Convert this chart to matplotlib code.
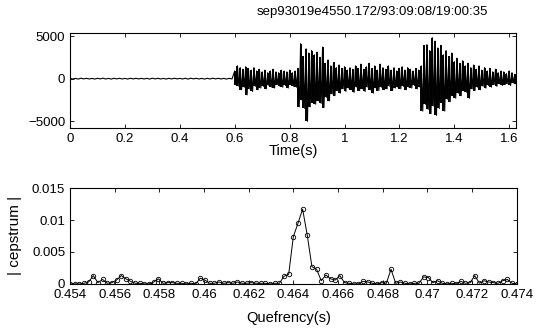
# 파형 + 켑스트럼 재현
import numpy as np
import matplotlib
matplotlib.use("Agg")
import matplotlib.pyplot as plt

plt.rcParams['font.family'] = ['Liberation Sans', 'DejaVu Sans']

# ---- 데이터 ----
title_text = 'sep93019e4550.172/93:09:08/19:00:35'

# 조용한 구간 (0 ~ 0.6 s), 0.02 s 간격 포락선
quiet_start = 0.0
quiet_step = 0.02
quiet_up = [40, 30, 50, 40, 30, 40, 50, 30, 40, 40,
            30, 50, 40, 30, 40, 50, 40, 30, 40, 50,
            30, 40, 50, 40, 30, 40, 50, 40, 30, 40]
quiet_low = [-40, -50, -30, -40, -50, -30, -40, -50, -30, -40,
             -50, -40, -30, -40, -50, -30, -40, -50, -40, -30,
             -40, -50, -30, -40, -50, -40, -30, -40, -50, -40]

# 소리 구간 (0.60 ~ 1.62 s), 0.01 s 간격 상/하 포락선
active_start = 0.60
active_step = 0.01
active_up = [
    900, 1500, 1300, 1100, 1400, 1200, 1000, 1300, 900, 1100,      # 0.60
    800, 1000, 700, 900, 1100, 800, 700, 1000, 900, 800,           # 0.70
    1000, 700, 900, 1200, 4100, 2600, 3500, 3000, 3300, 2800,      # 0.80
    3100, 2500, 3700, 1800, 2200, 1500, 1900, 1300, 1600, 1200,    # 0.90
    1400, 1000, 1300, 1100, 1500, 1200, 1700, 1100, 1400, 1800,    # 1.00
    1200, 1500, 1000, 1700, 1300, 1100, 1500, 1000, 1300, 900,     # 1.10
    1200, 1400, 1000, 1300, 1100, 900, 1200, 1000, 1500, 3900,     # 1.20
    4000, 3300, 4800, 4400, 3600, 3900, 2800, 3300, 2600, 3000,    # 1.30
    2000, 2400, 1800, 2100, 1500, 1800, 1300, 1600, 1100, 1500,    # 1.40
    1000, 1300, 900, 1200, 800, 1100, 700, 900, 800, 600,          # 1.50
    900, 700, 500,                                                 # 1.60
]
active_low = [
    -700, -900, -1300, -1000, -1900, -1200, -1500, -900, -1300, -1100,     # 0.60
    -900, -1200, -800, -1000, -1100, -700, -900, -1000, -800, -1100,       # 0.70
    -700, -900, -1000, -3300, -2500, -3500, -5000, -3300, -2800, -3000,    # 0.80
    -2600, -2900, -3400, -2200, -2600, -1800, -2000, -1400, -1700, -1200,  # 0.90
    -1500, -1100, -1300, -1600, -1000, -1400, -1200, -1500, -1000, -1300,  # 1.00
    -1700, -1100, -1400, -1000, -1300, -1200, -900, -1400, -1100, -1000,   # 1.10
    -1200, -900, -1300, -1000, -1100, -800, -1200, -1000, -3800, -3000,    # 1.20
    -3600, -4100, -3200, -4300, -3500, -2800, -3800, -2400, -2700, -2000,  # 1.30
    -2300, -1700, -2000, -1400, -1600, -2300, -1200, -1400, -1000, -1300,  # 1.40
    -900, -1100, -800, -1000, -700, -900, -600, -800, -700, -600,          # 1.50
    -800, -500, -600,                                                      # 1.60
]

# 켑스트럼 (0.454 ~ 0.474 s, 97 점)
q_start, q_end = 0.454, 0.474
cep_vals = [
    0, 0, 0, 0.0001, 0.0003, 0.0013, 0.0002, 0.0007, 0.0001, 0.0002,
    0.0006, 0.0013, 0.0008, 0.0004, 0.0001, 0.0001, 0, 0, 0.0003, 0.0008,
    0.0001, 0.0002, 0.0002, 0.0001, 0.0001, 0, 0.0001, 0, 0.0009, 0.0006,
    0.0001, 0.0001, 0.0003, 0.0001, 0.0002, 0.0001, 0.0003, 0.0001, 0.0001, 0.0002,
    0.0001, 0.0001, 0.0001, 0, 0.0001, 0.0001, 0.0012, 0.0015, 0.0074, 0.0095,
    0.0117, 0.0076, 0.0027, 0.0023, 0.0005, 0.0014, 0.0008, 0.0006, 0.0013, 0.0002,
    0.0001, 0, 0, 0.0004, 0.0003, 0.0001, 0, 0.0002, 0.0001, 0.0023,
    0.0001, 0.0003, 0.0001, 0, 0.0001, 0.0001, 0.0011, 0.0010, 0.0002, 0.0005,
    0.0001, 0, 0.0001, 0, 0.0004, 0.0001, 0.0002, 0.0013, 0.0001, 0.0005,
    0.0003, 0.0002, 0.0001, 0.0005, 0.0007, 0.0001, 0,
]

time_ticks = [0, 0.2, 0.4, 0.6, 0.8, 1.0, 1.2, 1.4, 1.6]
time_ticklabels = ['0', '0.2', '0.4', '0.6', '0.8', '1', '1.2', '1.4', '1.6']
amp_ticks = [-5000, 0, 5000]
q_ticks = [0.454, 0.456, 0.458, 0.46, 0.462, 0.464, 0.466, 0.468, 0.47, 0.472, 0.474]
q_ticklabels = ['0.454', '0.456', '0.458', '0.46', '0.462', '0.464',
                '0.466', '0.468', '0.47', '0.472', '0.474']
cep_ticks = [0, 0.005, 0.01, 0.015]
cep_ticklabels = ['0', '0.005', '0.01', '0.015']


# 포락선 -> 지그재그 선 (상단값, 하단값을 번갈아)
def zigzag(start, step, up, low):
    t, v = [], []
    for i, (u, l) in enumerate(zip(up, low)):
        t += [start + i * step, start + (i + 0.5) * step]
        v += [u, l]
    return t, v


qt, qv = zigzag(quiet_start, quiet_step, quiet_up, quiet_low)
at, av = zigzag(active_start, active_step, active_up, active_low)
wave_t = qt + at
wave_v = qv + av
active_t = [active_start + i * active_step for i in range(len(active_up))]

quef = np.linspace(q_start, q_end, len(cep_vals))

# ---- 그림 ----
fig = plt.figure(figsize=(5.44, 3.36), dpi=100)
ax1 = fig.add_axes([0.1287, 0.620, 0.820, 0.283])
ax2 = fig.add_axes([0.1287, 0.155, 0.821, 0.285])

ax1.plot(wave_t, wave_v, color='black', lw=0.8)
ax1.vlines(active_t, active_low, active_up, color='black', lw=1.4)
ax1.set_xlim(0, 1.625)
ax1.set_ylim(-5750, 5400)
ax1.set_xticks(time_ticks)
ax1.set_xticklabels(time_ticklabels)
ax1.set_yticks(amp_ticks)
ax1.set_xlabel('Time(s)', fontsize=10.5)
ax1.xaxis.set_label_coords(0.5, -0.24)
ax1.xaxis.label.set_va('center')

ax2.plot(quef, cep_vals, '-o', color='black', lw=0.7, ms=3.2,
         mfc='none', mec='black', mew=0.6)
ax2.set_xlim(q_start, q_end)
ax2.set_ylim(0, 0.015)
ax2.set_xticks(q_ticks)
ax2.set_xticklabels(q_ticklabels)
ax2.set_yticks(cep_ticks)
ax2.set_yticklabels(cep_ticklabels)
ax2.set_xlabel('Quefrency(s)', fontsize=10.5)
ax2.xaxis.set_label_coords(0.49, -0.355)
ax2.xaxis.label.set_va('center')
ax2.set_ylabel('| cepstrum |', fontsize=11)
ax2.yaxis.set_label_coords(-0.123, 0.51)
ax2.yaxis.label.set_va('center')

for ax in (ax1, ax2):
    ax.tick_params(direction='in', top=True, right=True, length=2.8,
                   width=0.6, labelsize=9.5, pad=3.5)
    for s in ax.spines.values():
        s.set_linewidth(0.8)

fig.text(372 / 544, 1 - 12 / 336, title_text, fontsize=9.5, ha='center', va='center')

fig.savefig('out.png', dpi=100)
